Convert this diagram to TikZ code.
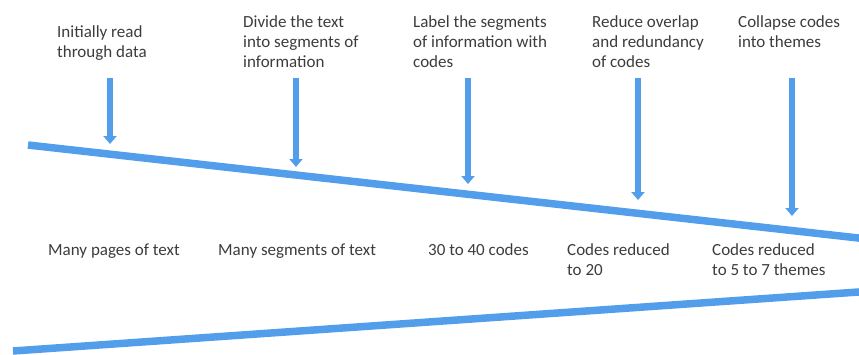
\documentclass[tikz,border=0pt]{standalone}
\usepackage{fontspec}
\setmainfont{Carlito}
\usetikzlibrary{arrows.meta}
\definecolor{funnelblue}{RGB}{82,158,235}
\definecolor{labelgray}{RGB}{60,60,60}
\newcommand{\stacklines}[1]{\begin{tabular}[t]{@{}l@{}}#1\end{tabular}}
\begin{document}
\begin{tikzpicture}[x=1pt,y=-1pt,
  funnel/.style={draw=funnelblue,line width=7.5pt,line cap=butt},
  steparrow/.style={draw=funnelblue,line width=5.5pt,
    -{Triangle[width=13pt,length=8pt]}},
  lbl/.style={anchor=base west,inner sep=0pt,text=labelgray,
    font=\fontsize{17}{20}\selectfont}]
\useasboundingbox (0,0) rectangle (859,354);

% funnel edges
\coordinate (upL) at (28,145);
\coordinate (upR) at (870,239.3);
\coordinate (loL) at (13,351);
\coordinate (loR) at (870,291.2);
\draw[funnel] (upL) -- (upR);
\draw[funnel] (loL) -- (loR);

% step descriptions
\node[lbl] (t1) at (57,37) {\stacklines{Initially read\\through data}};
\node[lbl] (t2) at (243,27) {\stacklines{Divide the text\\into segments of\\information}};
\node[lbl] (t3) at (413,27) {\stacklines{Label the segments\\of information with\\codes}};
\node[lbl] (t4) at (592,27) {\stacklines{Reduce overlap\\and redundancy\\of codes}};
\node[lbl] (t5) at (738,27) {\stacklines{Collapse codes\\into themes}};

% arrows into the funnel
\coordinate (a1s) at (110,78);  \coordinate (a1e) at (110,144);
\coordinate (a2s) at (296,78);  \coordinate (a2e) at (296,167);
\coordinate (a3s) at (468,78);  \coordinate (a3e) at (468,184);
\coordinate (a4s) at (638,78);  \coordinate (a4e) at (638,200);
\coordinate (a5s) at (792,78);  \coordinate (a5e) at (792,216);
\draw[steparrow] (a1s) -- (a1e);
\draw[steparrow] (a2s) -- (a2e);
\draw[steparrow] (a3s) -- (a3e);
\draw[steparrow] (a4s) -- (a4e);
\draw[steparrow] (a5s) -- (a5e);

% results inside the funnel
\node[lbl] (b1) at (48,255) {Many pages of text};
\node[lbl] (b2) at (218,255) {Many segments of text};
\node[lbl] (b3) at (428,255) {30 to 40 codes};
\node[lbl] (b4) at (567,255) {\stacklines{Codes reduced\\to 20}};
\node[lbl] (b5) at (712,255) {\stacklines{Codes reduced\\to 5 to 7 themes}};
\end{tikzpicture}
\end{document}
